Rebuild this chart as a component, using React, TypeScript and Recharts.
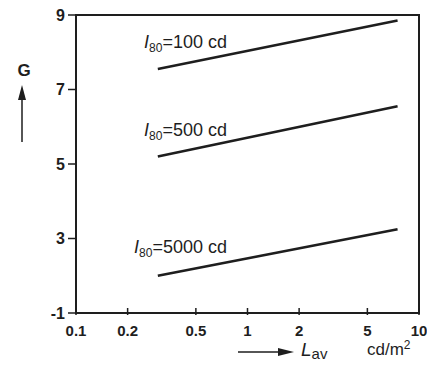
import React from 'react';
import { LineChart, Line, XAxis, YAxis, ReferenceArea, Customized } from 'recharts';

// average luminance L_av (cd/m2), log axis
const L_AV = [0.3, 7.5];
const G_100 = [7.55, 8.85];
const G_500 = [5.2, 6.55];
const G_5000 = [2.0, 3.25];

const X_TICKS = [0.1, 0.2, 0.5, 1, 2, 5, 10];
const Y_TICKS = [1, 3, 5, 7, 9];
const Y_TICK_LABELS: Record<number, string> = { 1: '-1', 3: '3', 5: '5', 7: '7', 9: '9' };

const data = L_AV.map((l, i) => ({
  l,
  g100: G_100[i],
  g500: G_500[i],
  g5000: G_5000[i],
}));

const INK = '#1e1e1e';
const FONT = '"Liberation Sans", Arial, sans-serif';

const XTick = (props: any) => {
  const { x, y, payload } = props;
  return (
    <g>
      <line x1={x} x2={x} y1={y - 5} y2={y + 2} stroke={INK} strokeWidth={1.5} />
      <text x={x} y={y + 23} textAnchor="middle" fontSize={15} fontWeight="bold" fill={INK} fontFamily={FONT}>
        {String(payload.value)}
      </text>
    </g>
  );
};

const CurveLabel = ({ x, y, value }: { x: number; y: number; value: string }) => (
  <text x={x} y={y} textAnchor="end" fontSize={18} fill={INK} fontFamily={FONT}>
    <tspan fontStyle="italic">I</tspan>
    <tspan fontSize={12} dy={4}>80</tspan>
    <tspan dy={-4}>=</tspan>
    <tspan>{value} cd</tspan>
  </text>
);

const Annotations = () => (
  <g>
    <CurveLabel x={227} y={48} value="100" />
    <CurveLabel x={227} y={136} value="500" />
    <CurveLabel x={227} y={253} value="5000" />

    {/* G axis title with up arrow */}
    <text x={24} y={76} textAnchor="middle" fontSize={17} fontWeight="bold" fill={INK} fontFamily={FONT}>G</text>
    <line x1={22} x2={22} y1={96} y2={142} stroke={INK} strokeWidth={1.5} />
    <polygon points="22,85 18,100 26,100" fill={INK} />

    {/* L_av axis title with right arrow */}
    <line x1={238} x2={280} y1={352} y2={352} stroke={INK} strokeWidth={1.5} />
    <polygon points="294,352 278,348 278,356" fill={INK} />
    <text x={301} y={356} fontSize={19} fill={INK} fontFamily={FONT}>
      <tspan fontStyle="italic">L</tspan>
      <tspan fontSize={15} dy={3}>av</tspan>
    </text>
    <text x={367} y={355} fontSize={17} fill={INK} fontFamily={FONT}>
      cd/m<tspan fontSize={12} dy={-6}>2</tspan>
    </text>
  </g>
);

export default function App() {
  return (
    <div style={{ position: 'absolute', left: 0, top: 0, background: '#fff' }}>
      <LineChart width={427} height={365} data={data} margin={{ top: 15, right: 8, bottom: 22, left: 46 }}>
        <XAxis
          dataKey="l"
          type="number"
          scale="log"
          domain={[0.1, 10]}
          ticks={X_TICKS}
          allowDataOverflow
          height={30}
          tickSize={0}
          tickMargin={0}
          tickLine={false}
          tick={<XTick />}
          axisLine={{ stroke: INK, strokeWidth: 2 }}
          interval={0}
        />
        <YAxis
          type="number"
          domain={[1, 9]}
          ticks={Y_TICKS}
          width={30}
          tickSize={8}
          tickMargin={3}
          interval={0}
          tickFormatter={(v: number) => Y_TICK_LABELS[v] ?? String(v)}
          tick={{ fontSize: 16, fontWeight: 'bold', fill: INK, fontFamily: FONT }}
          tickLine={{ stroke: INK, strokeWidth: 1.5 }}
          axisLine={{ stroke: INK, strokeWidth: 2 }}
        />
        <ReferenceArea x1={0.1} x2={10} y1={1} y2={9} fill="none" stroke={INK} strokeWidth={2} ifOverflow="visible" />
        <Line dataKey="g100" stroke={INK} strokeWidth={2.6} dot={false} isAnimationActive={false} />
        <Line dataKey="g500" stroke={INK} strokeWidth={2.6} dot={false} isAnimationActive={false} />
        <Line dataKey="g5000" stroke={INK} strokeWidth={2.6} dot={false} isAnimationActive={false} />
        <Customized component={Annotations} />
      </LineChart>
    </div>
  );
}
